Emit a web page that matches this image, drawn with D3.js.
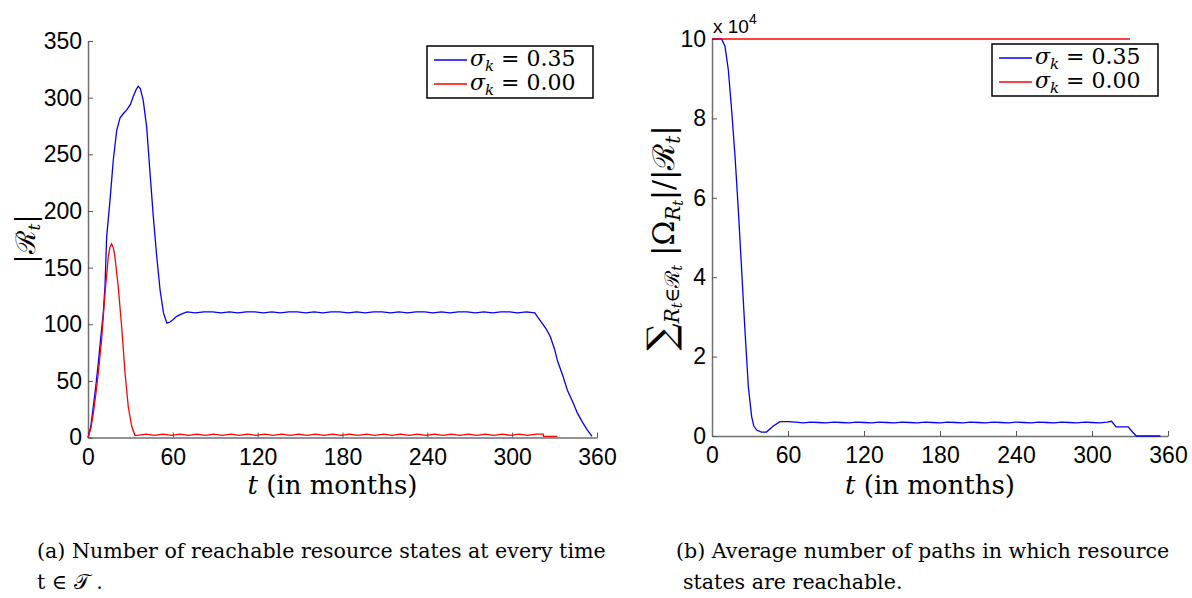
<!DOCTYPE html>
<html>
<head>
<meta charset="utf-8">
<script src="https://cdn.jsdelivr.net/npm/d3@7"></script>
<style>
  body { margin: 0; background: #fff; }
  svg { display: block; }
</style>
</head>
<body>
<div id="chart"></div>
<script>
// ---- data ----
const seriesNames = ["0.35", "0.00"];
const xTicks = [0, 60, 120, 180, 240, 300, 360];
const leftYTicks = [0, 50, 100, 150, 200, 250, 300, 350];
const rightYTicks = [0, 20000, 40000, 60000, 80000, 100000];

// (a) |R_t|, sigma_k = 0.35
const leftBlueMonths = [0, 2, 3.7, 5.5, 7.3, 9, 10.8, 12, 13.2, 15.6, 17.9, 20.3, 22.6, 25, 27.3, 30, 32, 34, 35.5, 37, 39, 41.5, 43.9, 46.2, 48.6, 51, 53.4, 55.8, 58, 60, 62.7, 66,
  70, 76, 82, 88, 94, 100, 106, 112, 118, 124, 130, 136, 142, 148, 154, 160, 166, 172, 178, 184, 190, 196, 202, 208, 214, 220, 226, 232, 238, 244, 250, 256, 262, 268, 274, 280, 286, 292, 298, 304, 310,
  316, 320, 324, 327, 330, 332, 336, 339, 343, 346, 350, 353, 356.5];
const leftBlueValues = [0, 10, 27, 45, 66, 88, 110, 133, 177, 210, 245, 271, 282, 286, 289, 294, 301, 307, 310, 308, 298, 274, 233, 195, 160, 130, 110, 101, 102, 104, 107, 109,
  111, 110, 111, 111, 110, 111, 110, 111, 111, 110, 111, 110, 111, 111, 110, 111, 110, 111, 111, 110, 111, 110, 111, 111, 110, 111, 110, 111, 111, 110, 111, 110, 111, 111, 110, 111, 110, 111, 111, 110, 111,
  110, 103, 96, 89, 78, 68, 54, 42, 31, 22, 13, 7, 1];

// (a) |R_t|, sigma_k = 0.00
const leftRedMonths = [0, 2, 3.7, 5.5, 7.3, 9.6, 12, 14.4, 15.5, 16.7, 18, 19, 21.4, 23.8, 26.2, 28.5, 30.9, 33.2,
  35, 41, 47, 53, 59, 65, 71, 77, 83, 89, 95, 101, 107, 113, 119, 125, 131, 137, 143, 149, 155, 161, 167, 173, 179, 185, 191, 197, 203, 209, 215, 221, 227, 233, 239, 245, 251, 257, 263, 269, 275, 281, 287, 293, 299, 305, 311, 317,
  322, 322.2, 332];
const leftRedValues = [0, 8, 21, 38, 57, 86, 127, 160, 168, 171, 167, 160, 133, 98, 57, 27, 10, 2,
  2, 3, 2, 3, 2, 3, 2, 3, 2, 3, 2, 3, 2, 3, 2, 3, 2, 3, 2, 3, 2, 3, 2, 3, 2, 3, 2, 3, 2, 3, 2, 3, 2, 3, 2, 3, 2, 3, 2, 3, 2, 3, 2, 3, 2, 3, 2, 3,
  3, 1, 1];

// (b) average number of paths, sigma_k = 0.35
const rightBlueMonths = [0, 7.6, 10.3, 12.9, 15.5, 18.2, 20.8, 23.4, 26, 28.7, 31.3, 33, 35.3, 39, 43, 48.4, 53.7,
  60, 66, 72, 78, 84, 90, 96, 102, 108, 114, 120, 126, 132, 138, 144, 150, 156, 162, 168, 174, 180, 186, 192, 198, 204, 210, 216, 222, 228, 234, 240, 246, 252, 258, 264, 270, 276, 282, 288, 294, 300, 306, 312,
  315.5, 319, 322, 328.6, 332, 335, 354];
const rightBlueValues = [100000, 100000, 98100, 92200, 82100, 70400, 56900, 41800, 26700, 12400, 4900, 2500, 1500, 1000, 1000, 2500, 3600,
  3600, 3500, 3300, 3500, 3400, 3300, 3500, 3400, 3300, 3500, 3400, 3300, 3500, 3400, 3300, 3500, 3400, 3300, 3500, 3400, 3300, 3500, 3400, 3300, 3500, 3400, 3300, 3500, 3400, 3300, 3500, 3400, 3300, 3500, 3400, 3300, 3500, 3400, 3300, 3500, 3400, 3300, 3500,
  3700, 2300, 2300, 2300, 1000, 0, 0];

// (b) sigma_k = 0.00
const rightRedMonths = [0, 330];
const rightRedValues = [100000, 100000];

const width = 1192;
const height = 598;

const svg = d3.select("#chart")
  .append("svg")
  .attr("width", width)
  .attr("height", height);

const tickFont = "'Liberation Sans', Arial, Helvetica, sans-serif";
const serifFont = "'DejaVu Serif', 'Liberation Serif', serif";
const mathFont = "'DejaVu Serif', 'Liberation Serif', serif";

// draw one panel
function drawPanel(p) {
  const x = d3.scaleLinear().domain([0, 360]).range([p.left, p.right]);
  const y = d3.scaleLinear().domain([0, p.yMax]).range([p.bottom, p.top]);

  const g = svg.append("g");

  // x axis, ticks pointing inwards
  const xAxis = g.append("g")
    .attr("transform", "translate(0," + p.bottom + ")")
    .call(d3.axisBottom(x).tickValues(xTicks).tickSizeInner(-5).tickSizeOuter(0).tickPadding(11));
  xAxis.selectAll("text").style("font-family", tickFont).style("font-size", "23px").attr("fill", "#000");

  const yAxis = g.append("g")
    .attr("transform", "translate(" + p.left + ",0)")
    .call(d3.axisLeft(y).tickValues(p.yTicks).tickFormat(p.fmt).tickSizeInner(-5).tickSizeOuter(0).tickPadding(6));
  yAxis.selectAll("text").style("font-family", tickFont).style("font-size", "23px").attr("fill", "#000");

  g.selectAll(".domain").attr("stroke", "#6f6f6f").attr("stroke-width", 1.5);
  g.selectAll(".tick line").attr("stroke", "#555");

  const line = d3.line()
    .x(function(d) { return x(d[0]); })
    .y(function(d) { return y(d[1]); });

  p.series.forEach(function(s) {
    g.append("path")
      .datum(d3.zip(s.months, s.values))
      .attr("d", line)
      .attr("fill", "none")
      .attr("stroke", s.color)
      .attr("stroke-width", 1.3);
  });

  // legend box
  const lg = g.append("g").attr("transform", "translate(" + p.legendX + "," + p.legendY + ")");
  lg.append("rect")
    .attr("width", 166)
    .attr("height", 52)
    .attr("fill", "#fff")
    .attr("stroke", "#000")
    .attr("stroke-width", 1.5);
  p.series.forEach(function(s, i) {
    const row = lg.append("g").attr("transform", "translate(0," + (i * 24) + ")");
    row.append("line")
      .attr("x1", 7).attr("x2", 40)
      .attr("y1", 14).attr("y2", 14)
      .attr("stroke", s.color)
      .attr("stroke-width", 1.3);
    const t = row.append("text")
      .attr("x", 43)
      .attr("y", 20)
      .style("font-family", mathFont)
      .style("font-size", "22px");
    t.append("tspan").style("font-style", "italic").text("σ");
    t.append("tspan").style("font-style", "italic").style("font-size", "15px").attr("dy", 5).text("k");
    t.append("tspan").attr("dy", -5).text(" = " + seriesNames[i]);
  });

  // x axis title
  const xt = g.append("text")
    .attr("x", (p.left + p.right) / 2 - 10)
    .attr("y", 494)
    .attr("text-anchor", "middle")
    .style("font-family", serifFont)
    .style("font-size", "26px");
  xt.append("tspan").style("font-style", "italic").text("t");
  xt.append("tspan").text(" (in months)");

  return g;
}

drawPanel({
  left: 88, right: 597, top: 41, bottom: 437.6,
  yMax: 350, yTicks: leftYTicks, fmt: d3.format("d"),
  legendX: 427, legendY: 46,
  series: [
    { months: leftBlueMonths, values: leftBlueValues, color: "#0000ff" },
    { months: leftRedMonths, values: leftRedValues, color: "#ff0000" }
  ]
});

drawPanel({
  left: 712, right: 1168, top: 39, bottom: 436,
  yMax: 100000, yTicks: rightYTicks, fmt: function(d) { return d / 10000; },
  legendX: 992, legendY: 44,
  series: [
    { months: rightBlueMonths, values: rightBlueValues, color: "#0000ff" },
    { months: rightRedMonths, values: rightRedValues, color: "#ff0000" }
  ]
});

// exponent label "x 10^4"
const ex = svg.append("text")
  .attr("x", 713)
  .attr("y", 33)
  .style("font-family", tickFont)
  .style("font-size", "19px");
ex.append("tspan").text("x 10");
ex.append("tspan").attr("dy", -9).style("font-size", "14px").text("4");

// left y label |R_t|
const yl = svg.append("text")
  .attr("transform", "translate(35,239) rotate(-90)")
  .attr("text-anchor", "middle")
  .style("font-family", mathFont)
  .style("font-size", "27px");
yl.append("tspan").text("|ℛ");
yl.append("tspan").style("font-style", "italic").style("font-size", "17px").attr("dy", 5).text("t");
yl.append("tspan").attr("dy", -5).text("|");

// right y label
const yr = svg.append("text")
  .attr("transform", "translate(671,238) rotate(-90)")
  .attr("text-anchor", "middle")
  .style("font-family", mathFont)
  .style("font-size", "30px");
yr.append("tspan").style("font-size", "38px").attr("dy", 3).text("∑");
yr.append("tspan").style("font-size", "20px").style("font-style", "italic").attr("dy", 5).text("R");
yr.append("tspan").style("font-size", "14px").style("font-style", "italic").attr("dy", 3).text("t");
yr.append("tspan").style("font-size", "20px").attr("dy", -3).text("∈ℛ");
yr.append("tspan").style("font-size", "14px").style("font-style", "italic").attr("dy", 3).text("t");
yr.append("tspan").attr("dy", -8).text(" |Ω");
yr.append("tspan").style("font-size", "20px").style("font-style", "italic").attr("dy", 6).text("R");
yr.append("tspan").style("font-size", "14px").style("font-style", "italic").attr("dy", 3).text("t");
yr.append("tspan").attr("dy", -9).text("|/|ℛ");
yr.append("tspan").style("font-size", "20px").style("font-style", "italic").attr("dy", 6).text("t");
yr.append("tspan").attr("dy", -6).text("|");

// captions
const captions = [
  { x: 37, y: 558, text: "(a) Number of reachable resource states at every time" },
  { x: 37, y: 589, text: "t ∈ 𝒯 ." },
  { x: 676, y: 558, text: "(b) Average number of paths in which resource" },
  { x: 683, y: 589, text: "states are reachable." }
];
captions.forEach(function(c) {
  svg.append("text")
    .attr("x", c.x)
    .attr("y", c.y)
    .style("font-family", serifFont)
    .style("font-size", "20.6px")
    .text(c.text);
});
</script>
</body>
</html>
